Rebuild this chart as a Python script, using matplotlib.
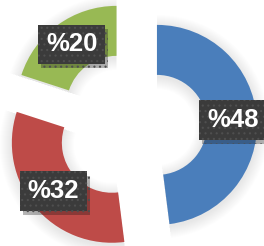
import matplotlib.pyplot as plt
from matplotlib import patheffects

plt.rcParams['font.family'] = ['Liberation Sans', 'DejaVu Sans']
plt.rcParams['hatch.linewidth'] = 0.8

labels = ['A', 'B', 'C']
values = [48, 32, 20]
colors = ['#4a7ebb', '#be4b48', '#98b954']

W, H = 264, 246
center = (131.5, H - 126.5)
radius = 100
ring = 50
explode = [25.5, 25.5, 25.5]

fig = plt.figure(figsize=(W / 100, H / 100), dpi=100)
ax = fig.add_axes([0, 0, 1, 1])

# soft shadow under the ring
for k in range(1, 13):
    ax.pie(values, radius=radius + k, explode=explode, startangle=90,
           counterclock=False, center=(center[0], center[1] - 2),
           colors=['#000000'] * len(values),
           wedgeprops=dict(width=ring + 2 * k, alpha=0.008, linewidth=0))

wedges, texts, autotexts = ax.pie(
    values, radius=radius, explode=explode, startangle=90, counterclock=False,
    center=center, colors=colors, autopct=lambda p: f'%{p:.0f}',
    pctdistance=0.76, wedgeprops=dict(width=ring, linewidth=0))

for t in autotexts:
    t.set_color('white')
    t.set_fontsize(18.5)
    t.set_fontweight('bold')
    t.set_bbox(dict(boxstyle='square,pad=0.3', fc='#3b3b3b', ec='#4f4f4f',
                    lw=0, hatch='...'))
    t.get_bbox_patch().set_path_effects([
        patheffects.SimplePatchShadow(offset=(2, -3), alpha=0.3),
        patheffects.Normal()])

ax.set_xlim(0, W)
ax.set_ylim(0, H)
ax.set_aspect('equal')
ax.axis('off')

fig.savefig('out.png', dpi=100)
